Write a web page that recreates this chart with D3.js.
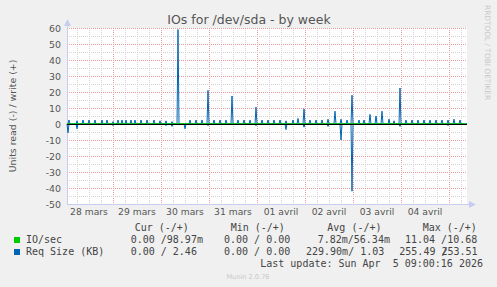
<!DOCTYPE html>
<html>
<head>
<meta charset="utf-8">
<script src="https://cdn.jsdelivr.net/npm/d3@7"></script>
<style>
  html, body { margin: 0; padding: 0; background: #f0f0f0; }
  svg text { white-space: pre; }
</style>
</head>
<body>
<svg id="chart" width="497" height="287"></svg>
<script>
// time window of the weekly graph
const startTime = "2026-03-28 01:00";
const endTime = "2026-04-05 09:00";

const dayLabels = ["28 mars", "29 mars", "30 mars", "31 mars", "01 avril", "02 avril", "03 avril", "04 avril"];
const yTicks = [-50, -40, -30, -20, -10, 0, 10, 20, 30, 40, 50, 60];

// Req Size (KB), write side (+)
const reqWrite = [
  ["03-28 02:00", 2.5], ["03-28 06:00", 2], ["03-28 09:00", 2.5], ["03-28 12:00", 2.5],
  ["03-28 15:00", 2.5], ["03-28 18:30", 2.5], ["03-28 21:00", 2.5], ["03-29 00:00", 1.5],
  ["03-29 02:30", 2.5], ["03-29 04:30", 2.5], ["03-29 06:30", 2.5], ["03-29 09:00", 2.5],
  ["03-29 11:00", 2.5], ["03-29 14:00", 2.5], ["03-29 17:00", 2.5], ["03-29 20:30", 2.5],
  ["03-29 23:30", 2], ["03-30 02:30", 2], ["03-30 05:30", 1.5], ["03-30 08:30", 59],
  ["03-30 14:30", 2.5], ["03-30 17:30", 2.5], ["03-30 20:30", 2.5], ["03-30 23:30", 21],
  ["03-31 02:30", 2.5], ["03-31 05:30", 2.5], ["03-31 08:30", 2.5], ["03-31 11:30", 17.5],
  ["03-31 14:30", 2.5], ["03-31 17:30", 2.5], ["03-31 20:30", 2.5], ["03-31 23:30", 10.5],
  ["04-01 02:30", 2.5], ["04-01 05:30", 2.5], ["04-01 08:30", 2.5], ["04-01 11:30", 2.5],
  ["04-01 14:30", 2], ["04-01 18:00", 2.5], ["04-01 20:30", 3.5], ["04-01 23:30", 9.5],
  ["04-02 02:30", 2.5], ["04-02 05:30", 2.5], ["04-02 08:30", 2.5], ["04-02 11:30", 3],
  ["04-02 15:00", 8], ["04-02 18:00", 3], ["04-02 21:00", 2.5], ["04-02 23:30", 18],
  ["04-03 03:00", 2.5], ["04-03 05:30", 2.5], ["04-03 08:30", 6], ["04-03 11:30", 5],
  ["04-03 14:30", 8], ["04-03 18:00", 3], ["04-03 20:30", 2], ["04-03 23:30", 22.5],
  ["04-04 02:30", 2.5], ["04-04 05:30", 2.5], ["04-04 08:30", 2.5], ["04-04 11:30", 2.5],
  ["04-04 14:30", 2.5], ["04-04 17:30", 2.5], ["04-04 20:30", 2.5], ["04-04 23:30", 2.5],
  ["04-05 02:30", 3], ["04-05 05:30", 2.5]
];
// Req Size (KB), read side (-)
const reqRead = [
  ["03-28 01:30", 5.5], ["03-28 06:00", 3], ["03-29 00:00", 1], ["03-30 02:30", 1],
  ["03-30 05:30", 1.5], ["03-30 12:00", 3], ["03-30 23:30", 1], ["03-31 23:30", 1],
  ["04-01 14:30", 3.5], ["04-01 23:30", 2], ["04-02 11:30", 1.5], ["04-02 18:00", 10],
  ["04-02 23:30", 42], ["04-03 23:30", 1.5], ["04-04 23:30", 1]
];
// IO/sec
const ioWrite = [
  ["03-30 08:30", 0.6], ["03-30 23:30", 0.6], ["03-31 11:30", 0.6], ["03-31 23:30", 0.6],
  ["04-01 23:30", 0.6], ["04-02 23:30", 0.6], ["04-03 23:30", 0.6]
];
const ioRead = [
  ["03-31 11:30", 0.6], ["04-02 23:30", 0.4]
];

const parse = d3.utcParse("%Y-%m-%d %H:%M");
const t0 = parse(startTime), t1 = parse(endTime);

let svg = d3.select("#chart");
let pLeft = 67, pRight = 467, pTop = 28, pBottom = 204;

let x = d3.scaleUtc().domain([t0, t1]).range([pLeft, pRight]);
let y = d3.scaleLinear().domain([-50, 60]).range([pBottom, pTop]);

let steps = d3.utcMinute.every(30).range(t0, new Date(+t1 + 1));
function series(peaks, sign) {
  let m = new Map(peaks.map(p => [+parse("2026-" + p[0]), p[1]]));
  return steps.map(t => ({ t: t, v: sign * (m.get(+t) || 0) }));
}

svg.append("rect").attr("x", pLeft).attr("y", pTop)
  .attr("width", pRight - pLeft).attr("height", pBottom - pTop).attr("fill", "#fff");

// grid
let grid = svg.append("g").attr("stroke-dasharray", "1,1").attr("stroke-width", 1);
d3.utcHour.every(6).range(t0, t1).forEach(t => {
  let major = t.getUTCHours() == 0;
  let xx = Math.round(x(t)) + 0.5;
  grid.append("line").attr("x1", xx).attr("x2", xx).attr("y1", pTop).attr("y2", pBottom)
    .attr("stroke", major ? "#eb9a9a" : "#d2d2d2");
});
d3.range(-50, 61, 5).forEach(v => {
  if (v == 0) return;
  let yy = Math.round(y(v)) + 0.5;
  grid.append("line").attr("x1", pLeft).attr("x2", pRight).attr("y1", yy).attr("y2", yy)
    .attr("stroke", v % 10 == 0 ? "#eb9a9a" : "#d2d2d2");
});

// axes lines and arrows
let axisCol = "#c8cdf0";
svg.append("line").attr("x1", pLeft + 0.5).attr("x2", pLeft + 0.5).attr("y1", pBottom).attr("y2", pTop - 4)
  .attr("stroke", axisCol);
svg.append("line").attr("x1", pLeft).attr("x2", pRight + 4).attr("y1", pBottom + 0.5).attr("y2", pBottom + 0.5)
  .attr("stroke", axisCol);
svg.append("path").attr("d", `M${pLeft - 3},${pTop - 2} L${pLeft + 0.5},${pTop - 9} L${pLeft + 4},${pTop - 2} Z`)
  .attr("fill", axisCol);
svg.append("path").attr("d", `M${pRight + 2},${pBottom - 3} L${pRight + 9},${pBottom + 0.5} L${pRight + 2},${pBottom + 4} Z`)
  .attr("fill", axisCol);

// data lines
let line = d3.line().x(d => x(d.t)).y(d => y(d.v));
let blue = "#0066b3", green = "#00cc00";
[series(reqWrite, 1), series(reqRead, -1)].forEach(s => {
  svg.append("path").datum(s).attr("d", line).attr("fill", "none")
    .attr("stroke", blue).attr("stroke-width", 1);
});
[series(ioWrite, 1), series(ioRead, -1)].forEach(s => {
  svg.append("path").datum(s).attr("d", line).attr("fill", "none")
    .attr("stroke", green).attr("stroke-width", 1);
});

// zero line
svg.append("line").attr("x1", pLeft).attr("x2", pRight)
  .attr("y1", Math.round(y(0)) + 0.5).attr("y2", Math.round(y(0)) + 0.5)
  .attr("stroke", "#000");

// y tick labels
let txtCol = "#555";
svg.append("g").selectAll("text").data(yTicks).enter().append("text")
  .attr("x", 61).attr("y", d => y(d) + 3.5)
  .attr("text-anchor", "end")
  .attr("font-family", "DejaVu Sans").attr("font-size", "9.4px").attr("fill", txtCol)
  .text(d => d);

// x day labels, centred on each day
let days = d3.utcDay.range(d3.utcDay.floor(t0), t1);
svg.append("g").selectAll("text").data(dayLabels).enter().append("text")
  .attr("x", (d, i) => x(d3.utcHour.offset(days[i], 12)))
  .attr("y", 215)
  .attr("text-anchor", "middle")
  .attr("font-family", "DejaVu Sans").attr("font-size", "9.2px").attr("fill", txtCol)
  .text(d => d);

// title and axis label
svg.append("text").attr("x", 249).attr("y", 24).attr("text-anchor", "middle")
  .attr("font-family", "DejaVu Sans").attr("font-size", "12.5px").attr("fill", "#555")
  .text("IOs for /dev/sda - by week");
svg.append("text").attr("transform", "translate(15.5,116) rotate(-90)").attr("text-anchor", "middle")
  .attr("font-family", "DejaVu Sans").attr("font-size", "9.4px").attr("fill", txtCol)
  .text("Units read (-) / write (+)");
svg.append("text").attr("transform", "translate(485,5) rotate(90)")
  .attr("font-family", "DejaVu Sans").attr("font-size", "7.4px").attr("fill", "#c8c8c8")
  .text("RRDTOOL / TOBI OETIKER");

// legend
let mono = g => g.attr("font-family", "DejaVu Sans Mono").attr("font-size", "10px").attr("fill", "#444");
let legend = svg.append("g").call(mono);
const legendHeads = [["Cur (-/+)", 134.7], ["Min (-/+)", 230.7], ["Avg (-/+)", 327.3], ["Max (-/+)", 422.7]];
const legendRows = [
  { name: "IO/sec", color: green, vals: [["0.00 /98.97m", 130.7], ["0.00 / 0.00", 224], ["7.82m/56.34m", 317.7], ["11.04 /10.68", 405]] },
  { name: "Req Size (KB)", color: blue, vals: [["0.00 / 2.46", 130.7], ["0.00 / 0.00", 224], ["229.90m/ 1.03", 306], ["255.49 ", 399.3], ["/", 441.4], ["253.51", 441.4]] }
];
legendHeads.forEach(h => legend.append("text").attr("x", h[1]).attr("y", 230.5).text(h[0]));
legendRows.forEach((r, i) => {
  let yy = 243 + i * 12;
  legend.append("rect").attr("x", 14).attr("y", yy - 6).attr("width", 6).attr("height", 6).attr("fill", r.color);
  legend.append("text").attr("x", 26).attr("y", yy).text(r.name);
  r.vals.forEach(v => legend.append("text").attr("x", v[1]).attr("y", yy).text(v[0]));
});
legend.append("text").attr("x", 483).attr("y", 266.5).attr("text-anchor", "end")
  .text("Last update: Sun Apr  5 09:00:16 2026");

svg.append("text").attr("x", 248).attr("y", 278.5).attr("text-anchor", "middle")
  .attr("font-family", "DejaVu Sans").attr("font-size", "6.6px").attr("fill", "#c8c8c8")
  .text("Munin 2.0.76");
</script>
</body>
</html>
